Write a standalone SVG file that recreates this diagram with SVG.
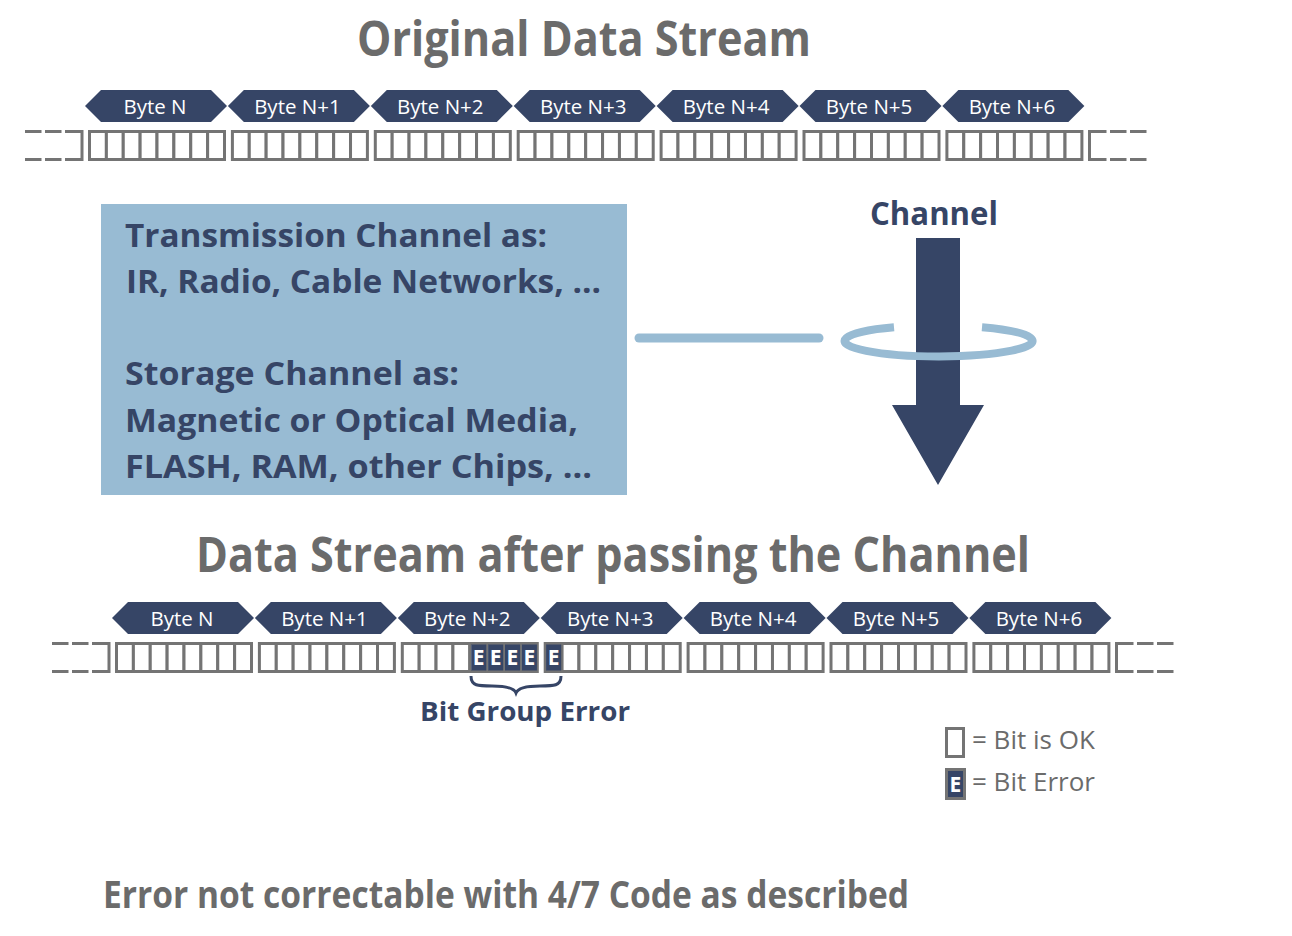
<svg xmlns="http://www.w3.org/2000/svg" xmlns:xlink="http://www.w3.org/1999/xlink" width="1292" height="936" viewBox="0 0 1292 936">
<style>
.title{font-family:"Open Sans","Noto Sans","Liberation Sans",sans-serif;font-weight:700;fill:#6b6b6b}
.navyb{font-family:"Open Sans","Noto Sans","Liberation Sans",sans-serif;font-weight:700;fill:#364566}
.lbl{font-family:"Open Sans","Noto Sans","Liberation Sans",sans-serif;font-size:20.5px;fill:#ffffff;text-anchor:middle}
.leg{font-family:"Open Sans","Noto Sans","Liberation Sans",sans-serif;font-size:26px;fill:#6b6b6b}
.etxt{font-family:"Open Sans","Noto Sans","Liberation Sans",sans-serif;font-weight:700;font-size:21px;fill:#ffffff;text-anchor:middle}
.bit{fill:#ffffff;stroke:#747474;stroke-width:3}
.dash{stroke:#747474;stroke-width:3;fill:none}
.tag{fill:#364566}
.err{fill:#364566}
.blue{stroke:#98bbd3;fill:none}
</style>
<defs>
<g id="byte">
<rect class="bit" x="1.5" y="1.5" width="16.875" height="28"/>
<rect class="bit" x="18.375" y="1.5" width="16.875" height="28"/>
<rect class="bit" x="35.25" y="1.5" width="16.875" height="28"/>
<rect class="bit" x="52.125" y="1.5" width="16.875" height="28"/>
<rect class="bit" x="69" y="1.5" width="16.875" height="28"/>
<rect class="bit" x="85.875" y="1.5" width="16.875" height="28"/>
<rect class="bit" x="102.75" y="1.5" width="16.875" height="28"/>
<rect class="bit" x="119.625" y="1.5" width="16.875" height="28"/>
</g>
<path id="tagshape" class="tag" d="M0,16 L16,0 L126,0 L142,16 L126,32 L16,32 Z"/>
<g id="lead">
<path class="dash" d="M25,1.5 H41.5 M45,1.5 H61.5 M65,1.5 H83.5 M25,29.5 H41.5 M45,29.5 H61.5 M65,29.5 H83.5 M82,1.5 V29.5"/>
</g>
<g id="trail">
<path class="dash" d="M1088,1.5 H1106.5 M1110,1.5 H1126.5 M1130,1.5 H1146.5 M1088,29.5 H1106.5 M1110,29.5 H1126.5 M1130,29.5 H1146.5 M1089.5,1.5 V29.5"/>
</g>
</defs>

<rect width="1292" height="936" fill="#ffffff"/>

<g id="title-original">
<text class="title" x="357" y="56" font-size="48" textLength="454" lengthAdjust="spacingAndGlyphs">Original Data Stream</text>
</g>

<g id="stream-original">
<use xlink:href="#lead" x="0" y="130"/>
<use xlink:href="#byte" x="88" y="130"/>
<use xlink:href="#byte" x="230.9" y="130"/>
<use xlink:href="#byte" x="373.8" y="130"/>
<use xlink:href="#byte" x="516.7" y="130"/>
<use xlink:href="#byte" x="659.6" y="130"/>
<use xlink:href="#byte" x="802.5" y="130"/>
<use xlink:href="#byte" x="945.4" y="130"/>
<use xlink:href="#trail" x="0" y="130"/>
</g>

<g id="labels-original">
<use xlink:href="#tagshape" x="85" y="90"/>
<use xlink:href="#tagshape" x="227.9" y="90"/>
<use xlink:href="#tagshape" x="370.8" y="90"/>
<use xlink:href="#tagshape" x="513.7" y="90"/>
<use xlink:href="#tagshape" x="656.6" y="90"/>
<use xlink:href="#tagshape" x="799.5" y="90"/>
<use xlink:href="#tagshape" x="942.4" y="90"/>
<text class="lbl" x="155" y="113.5">Byte N</text>
<text class="lbl" x="297.4" y="113.5">Byte N+1</text>
<text class="lbl" x="440.3" y="113.5">Byte N+2</text>
<text class="lbl" x="583.2" y="113.5">Byte N+3</text>
<text class="lbl" x="726.1" y="113.5">Byte N+4</text>
<text class="lbl" x="869" y="113.5">Byte N+5</text>
<text class="lbl" x="1011.9" y="113.5">Byte N+6</text>
</g>

<g id="channel-box">
<rect x="101" y="204" width="526" height="291" fill="#98bbd3"/>
<text class="navyb" x="125" y="247" font-size="33" textLength="422" lengthAdjust="spacingAndGlyphs">Transmission Channel as:</text>
<text class="navyb" x="126" y="293" font-size="33" textLength="475" lengthAdjust="spacingAndGlyphs">IR, Radio, Cable Networks, ...</text>
<text class="navyb" x="125" y="385" font-size="33" textLength="334" lengthAdjust="spacingAndGlyphs">Storage Channel as:</text>
<text class="navyb" x="125" y="432" font-size="33" textLength="453" lengthAdjust="spacingAndGlyphs">Magnetic or Optical Media,</text>
<text class="navyb" x="125" y="478" font-size="33" textLength="467" lengthAdjust="spacingAndGlyphs">FLASH, RAM, other Chips, ...</text>
</g>

<g id="connectors">
<line class="blue" x1="639" y1="338" x2="819" y2="338" stroke-width="9" stroke-linecap="round"/>
</g>

<g id="channel">
<text class="navyb" x="870" y="225" font-size="32" textLength="128" lengthAdjust="spacingAndGlyphs">Channel</text>
<polygon fill="#364566" points="916,238 960,238 960,405 984,405 938,485 892,405 916,405"/>
<path class="blue" stroke-width="8" d="M894,327.3 A94 15.5 0 1 0 982,327.2"/>
</g>

<g id="title-after">
<text class="title" x="196" y="572" font-size="48" textLength="834" lengthAdjust="spacingAndGlyphs">Data Stream after passing the Channel</text>
</g>

<g id="stream-after">
<use xlink:href="#lead" x="27" y="642"/>
<use xlink:href="#byte" x="115" y="642"/>
<use xlink:href="#byte" x="257.9" y="642"/>
<use xlink:href="#byte" x="400.8" y="642"/>
<use xlink:href="#byte" x="543.7" y="642"/>
<use xlink:href="#byte" x="686.6" y="642"/>
<use xlink:href="#byte" x="829.5" y="642"/>
<use xlink:href="#byte" x="972.4" y="642"/>
<use xlink:href="#trail" x="27" y="642"/>
</g>

<g id="bit-errors">
<rect class="err" x="471.2" y="644.5" width="15.1" height="26"/>
<rect class="err" x="488.1" y="644.5" width="15.1" height="26"/>
<rect class="err" x="505" y="644.5" width="15.1" height="26"/>
<rect class="err" x="521.8" y="644.5" width="15.1" height="26"/>
<rect class="err" x="546.1" y="644.5" width="15.1" height="26"/>
<text class="etxt" x="478.7" y="665">E</text>
<text class="etxt" x="495.6" y="665">E</text>
<text class="etxt" x="512.5" y="665">E</text>
<text class="etxt" x="529.3" y="665">E</text>
<text class="etxt" x="553.6" y="665">E</text>
</g>

<g id="labels-after">
<use xlink:href="#tagshape" x="112" y="602"/>
<use xlink:href="#tagshape" x="254.9" y="602"/>
<use xlink:href="#tagshape" x="397.8" y="602"/>
<use xlink:href="#tagshape" x="540.7" y="602"/>
<use xlink:href="#tagshape" x="683.6" y="602"/>
<use xlink:href="#tagshape" x="826.5" y="602"/>
<use xlink:href="#tagshape" x="969.4" y="602"/>
<text class="lbl" x="182" y="625.5">Byte N</text>
<text class="lbl" x="324.4" y="625.5">Byte N+1</text>
<text class="lbl" x="467.3" y="625.5">Byte N+2</text>
<text class="lbl" x="610.2" y="625.5">Byte N+3</text>
<text class="lbl" x="753.1" y="625.5">Byte N+4</text>
<text class="lbl" x="896" y="625.5">Byte N+5</text>
<text class="lbl" x="1038.9" y="625.5">Byte N+6</text>
</g>

<g id="bit-group-error">
<path d="M471,676 C471,686 478,686 492,686 C507,686 514,688 516,693 C518,688 525,686 540,686 C554,686 561,686 561,676" fill="none" stroke="#364566" stroke-width="3"/>
<text class="navyb" x="420" y="721" font-size="27" textLength="210" lengthAdjust="spacingAndGlyphs">Bit Group Error</text>
</g>

<g id="legend">
<rect class="bit" x="946.5" y="728.5" width="17" height="28"/>
<text class="leg" x="972" y="749">= Bit is OK</text>
<rect x="946.5" y="769.5" width="18" height="29" fill="#364566" stroke="#747474" stroke-width="3"/>
<text class="etxt" x="955.5" y="792">E</text>
<text class="leg" x="972" y="791">= Bit Error</text>
</g>

<g id="footer">
<text class="title" x="103" y="908" font-size="37" textLength="806" lengthAdjust="spacingAndGlyphs">Error not correctable with 4/7 Code as described</text>
</g>
</svg>
